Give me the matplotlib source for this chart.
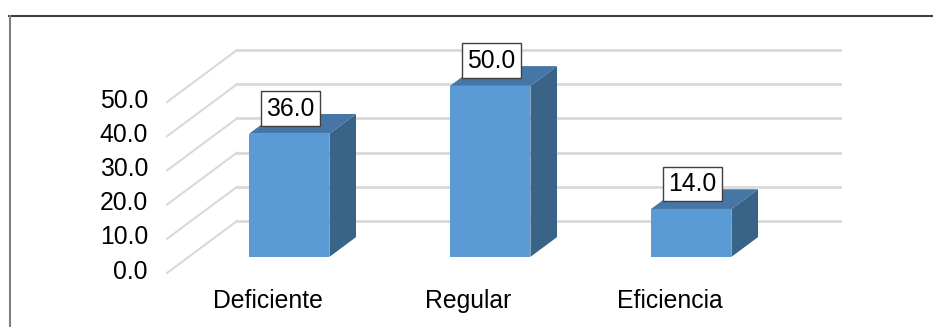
import matplotlib.pyplot as plt
from matplotlib.patches import Polygon

plt.rcParams['font.family'] = ['Liberation Sans', 'DejaVu Sans']

categorias = ['Deficiente', 'Regular', 'Eficiencia']
valores = [36.0, 50.0, 14.0]
ticks = [0, 10, 20, 30, 40, 50]

# profundidad del "3D": desplazamiento del frente respecto a la pared del fondo
DX = -0.348   # en unidades de categoria
DY = -15.2    # en unidades del eje de valores
ANCHO = 0.40
PROF_ATRAS, PROF_FRENTE = 0.31, 0.69
FS = 17.8

C_FRENTE = '#5B9BD5'
C_LADO = '#396488'
C_TECHO = '#4576A6'
C_GRID = '#D9D9D9'


def proy(x, y, d):
    return (x + DX * d, y + DY * d)


fig = plt.figure(figsize=(9.33, 3.27), dpi=100)
ax = fig.add_axes([237 / 933, 1 - 221 / 327, 603 / 933, 171 / 327])
ax.set_xlim(0, 3)
ax.set_ylim(0, 50)
ax.axis('off')

# marco del grafico
fig.add_artist(plt.Line2D([9 / 933, 1], [1 - 15.5 / 327] * 2, color='#404040', lw=1.5))
fig.add_artist(plt.Line2D([9.5 / 933] * 2, [0, 1 - 15.5 / 327], color='#808080', lw=1.5))

# lineas de la pared del fondo y diagonales del piso/lateral
for t in ticks:
    ax.plot([0, 3], [t, t], color=C_GRID, lw=2, clip_on=False, zorder=1)
    x0, y0 = proy(0, t, 1)
    ax.plot([x0, 0], [y0, t], color=C_GRID, lw=1.5, clip_on=False, zorder=1)
    ax.text(x0 - 0.095, y0 + 0.4, f'{t:.1f}', ha='right', va='center',
            fontsize=FS, clip_on=False)

for i, (cat, v) in enumerate(zip(categorias, valores)):
    xc = i + 0.5
    xl, xr = xc - ANCHO / 2, xc + ANCHO / 2
    frente = [proy(xl, 0, PROF_FRENTE), proy(xr, 0, PROF_FRENTE),
              proy(xr, v, PROF_FRENTE), proy(xl, v, PROF_FRENTE)]
    lado = [proy(xr, 0, PROF_FRENTE), proy(xr, 0, PROF_ATRAS),
            proy(xr, v, PROF_ATRAS), proy(xr, v, PROF_FRENTE)]
    techo = [proy(xl, v, PROF_FRENTE), proy(xr, v, PROF_FRENTE),
             proy(xr, v, PROF_ATRAS), proy(xl, v, PROF_ATRAS)]
    for pts, c in ((lado, C_LADO), (techo, C_TECHO), (frente, C_FRENTE)):
        ax.add_patch(Polygon(pts, closed=True, facecolor=c, edgecolor='none',
                             clip_on=False, zorder=3))

    # etiqueta de valor
    lx, ly = proy(xc, v, PROF_FRENTE)
    ax.text(lx + 0.005, ly + 7.3, f'{v:.1f}', ha='center', va='center',
            fontsize=FS, zorder=5, clip_on=False,
            bbox=dict(boxstyle='square,pad=0.22', facecolor='white',
                      edgecolor='#404040', linewidth=1))

    # nombre de la categoria en el borde frontal del piso
    cx, cy = proy(xc, 0, 1)
    ax.text(cx, cy - 8.2, cat, ha='center', va='center', fontsize=FS,
            clip_on=False)

fig.savefig('out.png', dpi=100)
